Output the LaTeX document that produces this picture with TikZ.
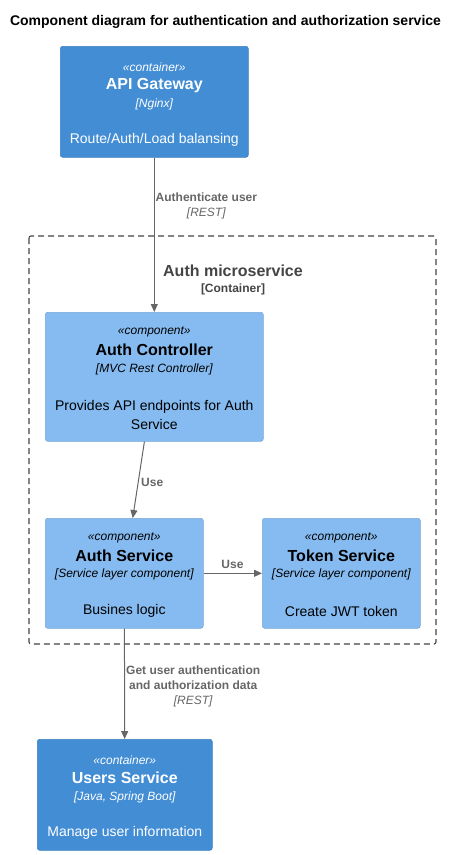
\documentclass[tikz,border=0pt]{standalone}
\usepackage{fontspec}
\setmainfont{Liberation Sans}
\usetikzlibrary{arrows.meta,calc}
\definecolor{ctr}{HTML}{438DD5}
\definecolor{ctrline}{HTML}{3C7FC0}
\definecolor{cmp}{HTML}{85BBF0}
\definecolor{cmpline}{HTML}{78A8D8}
\definecolor{rel}{HTML}{666666}
\definecolor{bnd}{HTML}{444444}

\begin{document}
\begin{tikzpicture}[x=1pt,y=-1pt,  % 1 unit = 1 px, y grows downward
  ctrbox/.style={draw=ctrline,fill=ctr,rounded corners=2.5pt,line width=0.6pt,inner sep=0pt,anchor=north west},
  cmpbox/.style={draw=cmpline,fill=cmp,rounded corners=2.5pt,line width=0.6pt,inner sep=0pt,anchor=north west},
  stereo/.style={font=\fontsize{12}{14}\selectfont\itshape,inner sep=0pt},
  ttl/.style={font=\fontsize{16}{19}\selectfont\bfseries,inner sep=0pt},
  tech/.style={font=\fontsize{12}{14}\selectfont\itshape,inner sep=0pt},
  desc/.style={font=\fontsize{14}{19}\selectfont,inner sep=0pt,align=center},
  rlbl/.style={font=\fontsize{12}{15}\selectfont,text=rel,inner sep=0pt,align=center},
  relarrow/.style={draw=rel,line width=1pt,-{Triangle[length=8pt,width=7pt]}}]
  \useasboundingbox (0,0) rectangle (457,855);
  \node[font=\fontsize{14}{17}\selectfont\bfseries] (title) at (225.5,21.5) {Component diagram for authentication and authorization service};

  % ---- boundary
  \draw[bnd,line width=1.1pt,dash pattern=on 6pt off 4pt,rounded corners=2pt] (29,236) rectangle (436,644);
  \node[ttl,text=bnd] (bnd-t) at (233,271) {Auth microservice};
  \node[font=\fontsize{12}{14}\selectfont\bfseries,text=bnd,inner sep=0pt] (bnd-s) at (233,289) {[Container]};

  % ---- API Gateway
  \node[ctrbox,minimum width=188pt,minimum height=111pt] (gw) at (60,46) {};
  \node[stereo,text=white] (gw-s) at ($(gw.north)+(0,21)$) {«container»};
  \node[ttl,text=white] (gw-t) at ($(gw.north)+(0,40)$) {API Gateway};
  \node[tech,text=white] (gw-k) at ($(gw.north)+(0,58)$) {[Nginx]};
  \node[desc,text=white] (gw-d) at ($(gw.north)+(0,94)$) {Route/Auth/Load balansing};

  % ---- Auth Controller
  \node[cmpbox,minimum width=218pt,minimum height=129pt] (ctrl) at (45,312) {};
  \node[stereo] (ctrl-s) at ($(ctrl.north)+(0,20)$) {«component»};
  \node[ttl] (ctrl-t) at ($(ctrl.north)+(0,38)$) {Auth Controller};
  \node[tech] (ctrl-k) at ($(ctrl.north)+(0,57)$) {[MVC Rest Controller]};
  \node[desc] (ctrl-d) at ($(ctrl.north)+(0,102.5)$) {Provides API endpoints for Auth\\Service};

  % ---- Auth Service
  \node[cmpbox,minimum width=158pt,minimum height=110pt] (authsvc) at (45,518) {};
  \node[stereo] (authsvc-s) at ($(authsvc.north)+(0,20)$) {«component»};
  \node[ttl] (authsvc-t) at ($(authsvc.north)+(0,38)$) {Auth Service};
  \node[tech] (authsvc-k) at ($(authsvc.north)+(0,56)$) {[Service layer component]};
  \node[desc] (authsvc-d) at ($(authsvc.north)+(0,93)$) {Busines logic};

  % ---- Token Service
  \node[cmpbox,minimum width=158pt,minimum height=110pt] (tokensvc) at (262,518) {};
  \node[stereo] (tokensvc-s) at ($(tokensvc.north)+(0,20)$) {«component»};
  \node[ttl] (tokensvc-t) at ($(tokensvc.north)+(0,38)$) {Token Service};
  \node[tech] (tokensvc-k) at ($(tokensvc.north)+(0,56)$) {[Service layer component]};
  \node[desc] (tokensvc-d) at ($(tokensvc.north)+(0,93)$) {Create JWT token};

  % ---- Users Service
  \node[ctrbox,minimum width=175pt,minimum height=111pt] (users) at (37,739) {};
  \node[stereo,text=white] (users-s) at ($(users.north)+(0,21)$) {«container»};
  \node[ttl,text=white] (users-t) at ($(users.north)+(0,39)$) {Users Service};
  \node[tech,text=white] (users-k) at ($(users.north)+(0,58)$) {[Java, Spring Boot]};
  \node[desc,text=white] (users-d) at ($(users.north)+(0,94)$) {Manage user information};

  % ---- relations
  \draw[relarrow] (gw) -- (ctrl);
  \draw[relarrow] (ctrl) -- (authsvc);
  \draw[relarrow] (authsvc) -- (tokensvc);
  \draw[relarrow] (authsvc) -- (users);
  \node[rlbl,anchor=north west] (l-auth) at (155.5,192.5) {\textbf{Authenticate user}\\\textit{[REST]}};
  \node[rlbl,anchor=west] (l-use1) at (141,482) {\textbf{Use}};
  \node[rlbl] (l-use2) at (232.5,564) {\textbf{Use}};
  \node[rlbl,anchor=north west] (l-get) at (126,666) {\textbf{Get user authentication}\\\textbf{and authorization data}\\\textit{[REST]}};
\end{tikzpicture}
\end{document}
